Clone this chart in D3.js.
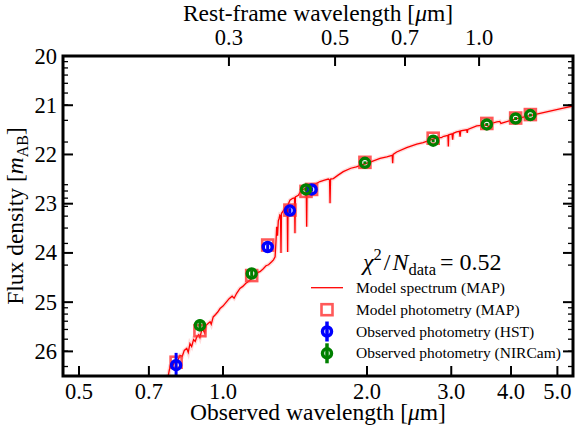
<!DOCTYPE html>
<html>
<head>
<meta charset="utf-8">
<script src="https://cdn.jsdelivr.net/npm/d3@7"></script>
<style>
  body { margin: 0; background: #fff; }
</style>
</head>
<body>
<script>
var width = 577;
var height = 427;

// photometry (observed wavelength in micron, AB mag)
var hstWave = [0.798, 1.24, 1.38, 1.532];
var hstMag = [26.28, 23.88, 23.14, 22.71];
var hstErr = [0.25, 0.06, 0.05, 0.04];

var nircamWave = [0.895, 1.148, 1.491, 1.98, 2.75, 3.56, 4.09, 4.39];
var nircamMag = [25.47, 24.42, 22.71, 22.17, 21.72, 21.39, 21.27, 21.20];
var nircamErr = [0.12, 0.06, 0.04, 0.03, 0.03, 0.03, 0.03, 0.03];

var modelWave = [0.798, 0.895, 1.148, 1.24, 1.38, 1.491, 1.532, 1.98, 2.75, 3.56, 4.09, 4.39];
var modelMag = [26.22, 25.58, 24.46, 23.84, 23.13, 22.75, 22.71, 22.16, 21.67, 21.37, 21.26, 21.19];

// model spectrum
var specWave = [0.765, 0.775, 0.785, 0.794, 0.800, 0.813, 0.822, 0.830, 0.840, 0.846, 0.853, 0.860,
  0.868, 0.875, 0.881, 0.890, 0.895, 0.902, 0.909, 0.915, 0.922, 0.932, 0.940, 0.945, 0.954, 0.965,
  0.975, 0.986, 1.000, 1.018, 1.030, 1.045, 1.055, 1.068, 1.085, 1.100, 1.115, 1.130, 1.148, 1.165,
  1.180, 1.195, 1.214, 1.230, 1.245, 1.264, 1.275, 1.285, 1.290, 1.295, 1.300, 1.305, 1.310, 1.315,
  1.319, 1.322, 1.325, 1.333, 1.345, 1.355, 1.362, 1.365, 1.368, 1.380, 1.399, 1.411, 1.414, 1.417,
  1.437, 1.460, 1.480, 1.493, 1.496, 1.499, 1.532, 1.560, 1.595, 1.630, 1.660, 1.670, 1.674, 1.678,
  1.701, 1.740, 1.784, 1.850, 1.900, 1.965, 2.050, 2.129, 2.200, 2.258, 2.263, 2.268, 2.307, 2.420,
  2.541, 2.620, 2.708, 2.800, 2.860, 2.880, 2.895, 2.952, 2.958, 2.964, 3.010, 3.020, 3.030, 3.079,
  3.120, 3.130, 3.140, 3.230, 3.240, 3.250, 3.391, 3.550, 3.600, 3.640, 3.734, 3.790, 3.810, 4.111,
  4.525, 5.144, 5.600];
var specMag = [26.60, 26.30, 26.30, 26.20, 26.24, 26.08, 26.10, 25.98, 25.94, 26.02, 25.84, 25.90,
  25.76, 25.80, 25.71, 25.66, 25.72, 25.58, 25.57, 25.62, 25.47, 25.43, 25.40, 25.45, 25.30, 25.25,
  25.20, 25.13, 25.08, 24.99, 24.93, 24.88, 24.92, 24.82, 24.72, 24.68, 24.62, 24.58, 24.52, 24.46,
  24.40, 24.38, 24.32, 24.26, 24.24, 24.18, 24.14, 24.08, 23.80, 23.47, 23.65, 23.35, 23.30, 23.23,
  23.24, 24.00, 23.20, 23.16, 23.10, 23.05, 23.05, 23.98, 23.02, 22.93, 22.89, 22.88, 23.60, 22.86,
  22.83, 22.72, 22.70, 22.68, 23.47, 22.66, 22.62, 22.60, 22.55, 22.52, 22.50, 22.52, 22.99, 22.50,
  22.49, 22.42, 22.35, 22.28, 22.25, 22.20, 22.14, 22.08, 22.05, 22.02, 22.18, 22.00, 21.95, 21.86,
  21.79, 21.76, 21.71, 21.66, 21.66, 21.64, 21.63, 21.61, 21.84, 21.60, 21.58, 21.70, 21.57, 21.54,
  21.53, 21.64, 21.52, 21.50, 21.56, 21.49, 21.42, 21.40, 21.44, 21.37, 21.34, 21.33, 21.37, 21.27,
  21.18, 21.06, 20.98];

var redshift = 2.43;
var obsTicks = [0.5, 0.7, 1.0, 2.0, 3.0, 4.0, 5.0];
var restTicks = [0.3, 0.5, 0.7, 1.0];
var magTicks = [20, 21, 22, 23, 24, 25, 26];

var serif = "'Liberation Serif', 'Times New Roman', Times, 'DejaVu Serif', serif";

var margin = {left: 63, right: 4, top: 56, bottom: 51};
var x0 = margin.left, x1 = width - margin.right;
var y0 = margin.top, y1 = height - margin.bottom;

var x = d3.scaleLog().domain([0.463, 5.39]).range([x0, x1]);
var y = d3.scaleLinear().domain([20, 26.5]).range([y0, y1]);

var svg = d3.select('body').append('svg')
  .attr('width', width)
  .attr('height', height)
  .attr('font-family', serif);

svg.append('clipPath').attr('id', 'clip')
  .append('rect').attr('x', x0).attr('y', y0).attr('width', x1 - x0).attr('height', y1 - y0);

var plot = svg.append('g').attr('clip-path', 'url(#clip)');

// spectrum
var spec = specWave.map(function(w, i) { return [w, specMag[i]]; });
var line = d3.line().x(function(d) { return x(d[0]); }).y(function(d) { return y(d[1]); });

plot.append('path').datum(spec)
  .attr('d', line)
  .attr('fill', 'none')
  .attr('stroke', '#ffb0b0')
  .attr('stroke-opacity', 0.45)
  .attr('stroke-width', 4);

plot.append('path').datum(spec)
  .attr('d', line)
  .attr('fill', 'none')
  .attr('stroke', '#ff0000')
  .attr('stroke-width', 1.3);

// model photometry squares
plot.selectAll('rect.model')
  .data(modelWave)
  .enter().append('rect')
  .attr('class', 'model')
  .attr('x', function(d) { return x(d) - 5.5; })
  .attr('y', function(d, i) { return y(modelMag[i]) - 5.5; })
  .attr('width', 11).attr('height', 11)
  .attr('fill', 'none')
  .attr('stroke', '#ff3030')
  .attr('stroke-opacity', 0.8)
  .attr('stroke-width', 2.6);

function drawObs(wave, mag, err, color) {
  var g = plot.append('g');
  g.selectAll('line')
    .data(wave)
    .enter().append('line')
    .attr('x1', function(d) { return x(d); })
    .attr('x2', function(d) { return x(d); })
    .attr('y1', function(d, i) { return y(mag[i] - err[i]); })
    .attr('y2', function(d, i) { return y(mag[i] + err[i]); })
    .attr('stroke', color)
    .attr('stroke-width', 3);
  g.selectAll('circle')
    .data(wave)
    .enter().append('circle')
    .attr('cx', function(d) { return x(d); })
    .attr('cy', function(d, i) { return y(mag[i]); })
    .attr('r', 4.5)
    .attr('fill', 'none')
    .attr('stroke', color)
    .attr('stroke-width', 3.5);
}
drawObs(hstWave, hstMag, hstErr, '#0000ff');
drawObs(nircamWave, nircamMag, nircamErr, '#008000');

// ticks, all pointing inward
var axes = svg.append('g').attr('stroke', '#000');

axes.selectAll('line.xb').data(obsTicks).enter().append('line')
  .attr('x1', function(d) { return x(d); }).attr('x2', function(d) { return x(d); })
  .attr('y1', y1).attr('y2', y1 - 10).attr('stroke-width', 2);

axes.selectAll('line.xt').data(restTicks).enter().append('line')
  .attr('x1', function(d) { return x(d * (1 + redshift)); })
  .attr('x2', function(d) { return x(d * (1 + redshift)); })
  .attr('y1', y0).attr('y2', y0 + 10).attr('stroke-width', 2);

// minor ticks follow a log flux axis (decades every 2.5 mag)
var minorMags = [];
[20, 22.5, 25, 27.5].forEach(function(m0) {
  d3.range(2, 10).forEach(function(k) {
    var m = m0 - 2.5 * Math.log10(k);
    if (m > 20 && m < 26.5) minorMags.push(m);
  });
});

[x0, x1].forEach(function(xe) {
  var dir = xe === x0 ? 1 : -1;
  axes.append('g').selectAll('line').data(magTicks).enter().append('line')
    .attr('x1', xe).attr('x2', xe + dir * 10)
    .attr('y1', function(d) { return y(d); }).attr('y2', function(d) { return y(d); })
    .attr('stroke-width', 2);
  axes.append('g').selectAll('line').data(minorMags).enter().append('line')
    .attr('x1', xe).attr('x2', xe + dir * 5)
    .attr('y1', function(d) { return y(d); }).attr('y2', function(d) { return y(d); })
    .attr('stroke-width', 1.3);
});

svg.append('rect')
  .attr('x', x0).attr('y', y0)
  .attr('width', x1 - x0).attr('height', y1 - y0)
  .attr('fill', 'none').attr('stroke', '#000').attr('stroke-width', 3);

// tick labels
var fmt = d3.format('.1f');
svg.selectAll('text.xb').data(obsTicks).enter().append('text')
  .attr('x', function(d) { return x(d); }).attr('y', y1 + 23)
  .attr('text-anchor', 'middle').attr('font-size', 22.5)
  .text(fmt);

svg.selectAll('text.xt').data(restTicks).enter().append('text')
  .attr('x', function(d) { return x(d * (1 + redshift)); }).attr('y', y0 - 11)
  .attr('text-anchor', 'middle').attr('font-size', 22.5)
  .text(fmt);

svg.selectAll('text.yl').data(magTicks).enter().append('text')
  .attr('x', x0 - 6).attr('y', function(d) { return y(d) + 7.5; })
  .attr('text-anchor', 'end').attr('font-size', 22.5)
  .text(function(d) { return d; });

// axis titles
svg.append('text')
  .attr('x', (x0 + x1) / 2).attr('y', 420)
  .attr('text-anchor', 'middle').attr('font-size', 23.5)
  .html('Observed wavelength [<tspan font-style="italic">μ</tspan>m]');

svg.append('text')
  .attr('x', (x0 + x1) / 2).attr('y', 21)
  .attr('text-anchor', 'middle').attr('font-size', 23.5)
  .html('Rest-frame wavelength [<tspan font-style="italic">μ</tspan>m]');

svg.append('text')
  .attr('transform', 'translate(23,' + ((y0 + y1) / 2) + ') rotate(-90)')
  .attr('text-anchor', 'middle').attr('font-size', 23.5)
  .html('Flux density [<tspan font-style="italic">m</tspan><tspan dy="5" font-size="16">AB</tspan><tspan dy="-5">]</tspan>');

// legend
svg.append('text')
  .attr('x', 363).attr('y', 270).attr('font-size', 24)
  .html('<tspan font-style="italic">χ</tspan><tspan dy="-10" font-size="16.5">2</tspan>' +
        '<tspan dy="10" dx="2">/</tspan><tspan font-style="italic" dx="2">N</tspan>' +
        '<tspan dy="5" font-size="16.5">data</tspan><tspan dy="-5" dx="4">=</tspan><tspan dx="6">0.52</tspan>');

var legend = svg.append('g');
var rows = [287.7, 309.7, 331.5, 353.3];
var labels = ['Model spectrum (MAP)', 'Model photometry (MAP)',
  'Observed photometry (HST)', 'Observed photometry (NIRCam)'];

legend.append('line')
  .attr('x1', 311).attr('x2', 343).attr('y1', rows[0]).attr('y2', rows[0])
  .attr('stroke', '#ff0000').attr('stroke-width', 1.3);
legend.append('rect')
  .attr('x', 327 - 5.5).attr('y', rows[1] - 5.5).attr('width', 11).attr('height', 11)
  .attr('fill', 'none').attr('stroke', '#ff3030').attr('stroke-opacity', 0.8).attr('stroke-width', 2.6);
[['#0000ff', rows[2]], ['#008000', rows[3]]].forEach(function(m) {
  legend.append('line')
    .attr('x1', 327).attr('x2', 327).attr('y1', m[1] - 10).attr('y2', m[1] + 10)
    .attr('stroke', m[0]).attr('stroke-width', 3.5);
  legend.append('circle')
    .attr('cx', 327).attr('cy', m[1]).attr('r', 4.5)
    .attr('fill', 'none').attr('stroke', m[0]).attr('stroke-width', 3.5);
});

legend.selectAll('text').data(labels).enter().append('text')
  .attr('x', 356).attr('y', function(d, i) { return rows[i] + 5; })
  .attr('font-size', 15.5)
  .text(function(d) { return d; });
</script>
</body>
</html>
